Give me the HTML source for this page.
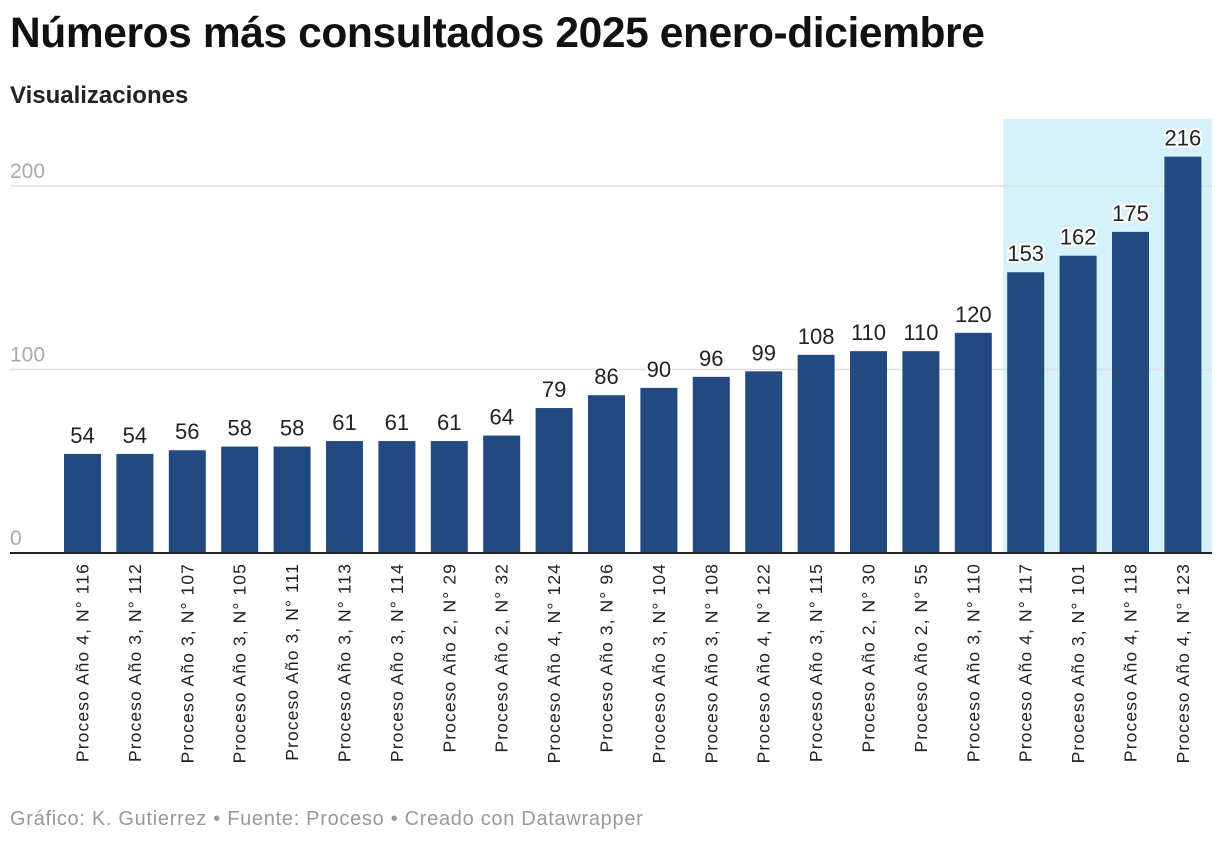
<!DOCTYPE html>
<html><head><meta charset="utf-8">
<style>
body{margin:0;background:#fff;width:1220px;height:844px;overflow:hidden;font-family:"Liberation Sans",sans-serif}
#title{position:absolute;left:10px;top:10px;font-size:42.5px;font-weight:bold;color:#111;letter-spacing:-0.4px}
#sub{position:absolute;left:10px;top:82px;font-size:24px;font-weight:bold;color:#222}
#foot{position:absolute;left:10px;top:808px;font-size:20px;color:#999;letter-spacing:0.7px}
svg{position:absolute;left:0;top:0}
</style></head><body>
<div id="title">Números más consultados 2025 enero-diciembre</div>
<div id="sub">Visualizaciones</div>
<div id="foot">Gráfico: K. Gutierrez • Fuente: Proceso • Creado con Datawrapper</div>
<svg id="chart" width="1220" height="844"></svg>
<script>
const categories=["Proceso Año 4, N° 116","Proceso Año 3, N° 112","Proceso Año 3, N° 107","Proceso Año 3, N° 105","Proceso Año 3, N° 111","Proceso Año 3, N° 113","Proceso Año 3, N° 114","Proceso Año 2, N° 29","Proceso Año 2, N° 32","Proceso Año 4, N° 124","Proceso Año 3, N° 96","Proceso Año 3, N° 104","Proceso Año 3, N° 108","Proceso Año 4, N° 122","Proceso Año 3, N° 115","Proceso Año 2, N° 30","Proceso Año 2, N° 55","Proceso Año 3, N° 110","Proceso Año 4, N° 117","Proceso Año 3, N° 101","Proceso Año 4, N° 118","Proceso Año 4, N° 123"];
const values=[54,54,56,58,58,61,61,61,64,79,86,90,96,99,108,110,110,120,153,162,175,216];
const yTicks=[0,100,200];
const highlightFrom=18;
const NS="http://www.w3.org/2000/svg";
const svg=document.getElementById('chart');
const y0=553,pxPer=1.835,x0=64,step=52.4,bw=37;
const y=v=>y0-v*pxPer;
const x=i=>x0+i*step;
function mk(t,a){const e=document.createElementNS(NS,t);for(const k in a)e.setAttribute(k,a[k]);svg.appendChild(e);return e;}
const hl=mk('rect',{x:x(highlightFrom)-4,y:119,width:1212-(x(highlightFrom)-4),height:y0-119,fill:'#d5f1fb'});


yTicks.forEach(t=>{
  if(t>0){const g=mk('line',{x1:10,x2:1212,y1:y(t),y2:y(t),stroke:'#e0e0e0','stroke-width':1.5});
  
  }
  const tx=mk('text',{x:10,y:y(t)-8,'font-size':21,fill:'#aaa'});tx.textContent=t;
  
  
});
values.forEach((v,i)=>{
  const r=mk('rect',{x:x(i),y:y(v),width:bw,height:v*pxPer,fill:'#224a80'});
  
  
  const t=mk('text',{x:x(i)+bw/2,y:y(v)-11,'font-size':22,'text-anchor':'middle',fill:'#222',stroke:'#fff','stroke-width':4,'paint-order':'stroke'});
  t.textContent=v;
  
  
  const cx=x(i)+bw/2+6;
  const l=mk('text',{x:cx,y:563,'font-size':17.5,'letter-spacing':1.1,'text-anchor':'end',fill:'#222',transform:`rotate(-90 ${cx} 563)`});
  l.textContent=categories[i];
  
  
});
const b=mk('line',{x1:10,x2:1212,y1:y0,y2:y0,stroke:'#222','stroke-width':2});


</script>
</body></html>
